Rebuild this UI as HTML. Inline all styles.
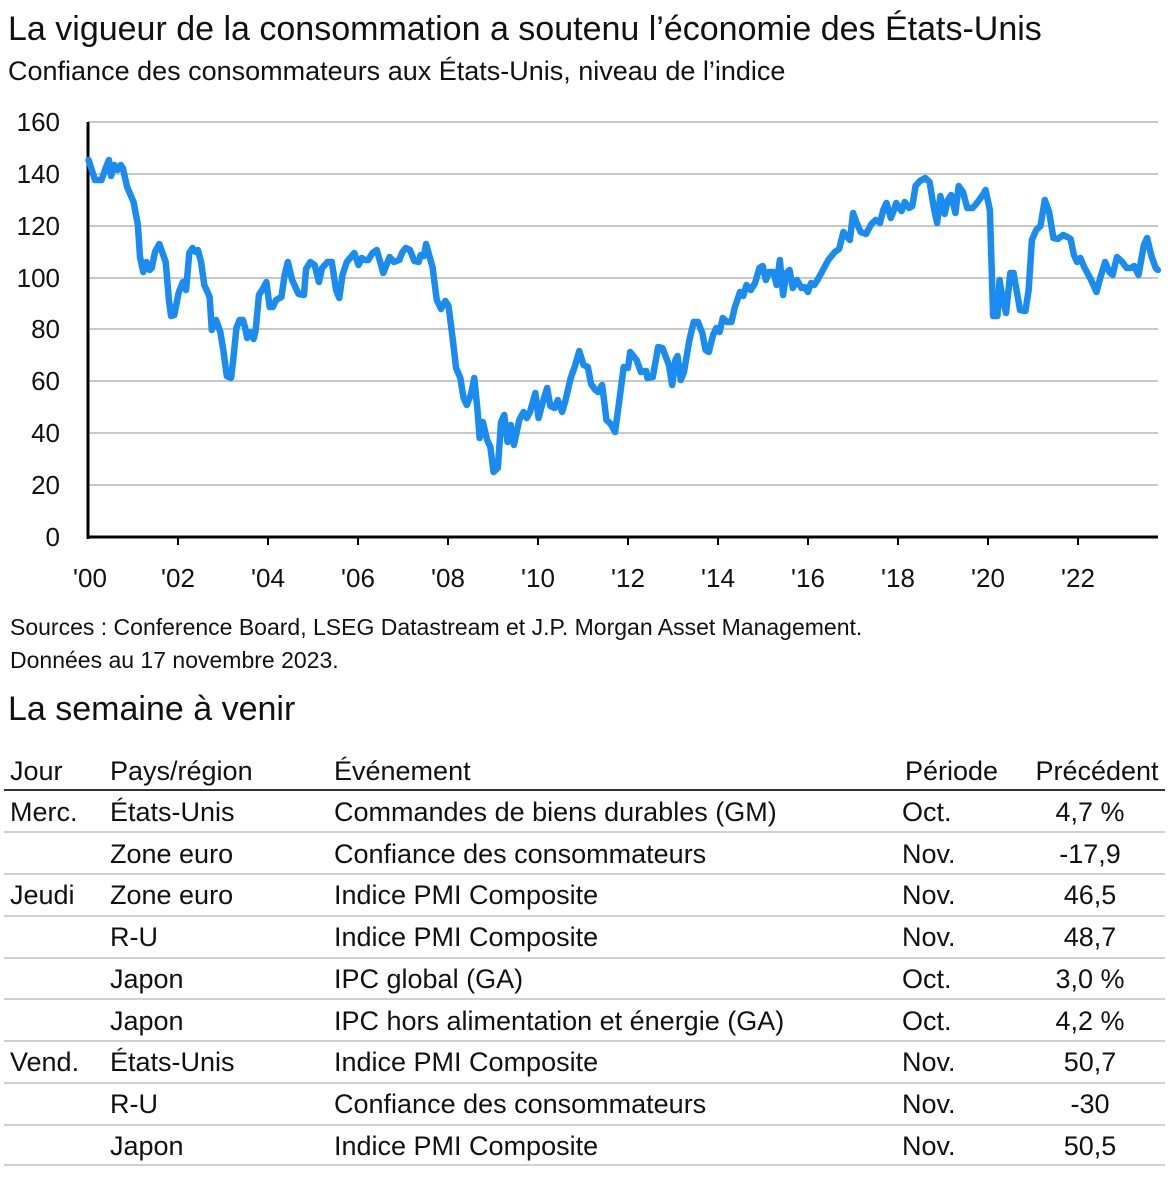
<!DOCTYPE html>
<html><head><meta charset="utf-8"><style>
body{margin:0;width:1173px;height:1200px;background:#fff;font-family:"Liberation Sans",sans-serif;color:#111;position:relative;overflow:hidden}
.t{position:absolute;white-space:nowrap}
.row{position:absolute;left:0;width:1165px;height:42px;font-size:27px;}
.row span{position:absolute;top:4px;white-space:nowrap}
.c1{left:10px}.c2{left:110px}.c3{left:334px}.c4{left:902px}.c5{left:1030px;width:120px;text-align:center}
.ln{position:absolute;left:4px;width:1161px;height:2px;background:#d0d0d0}
</style></head><body>
<div class="t" style="left:8px;top:10px;font-size:34px">La vigueur de la consommation a soutenu l’économie des États-Unis</div>
<div class="t" style="left:8px;top:56px;font-size:27px">Confiance des consommateurs aux États-Unis, niveau de l’indice</div>
<svg style="position:absolute;left:0;top:0" width="1173" height="600">
<g stroke="#c8c8c8" stroke-width="2">
<line x1="88" x2="1158" y1="122" y2="122"/><line x1="88" x2="1158" y1="174" y2="174"/><line x1="88" x2="1158" y1="226" y2="226"/><line x1="88" x2="1158" y1="278" y2="278"/><line x1="88" x2="1158" y1="329" y2="329"/><line x1="88" x2="1158" y1="381" y2="381"/><line x1="88" x2="1158" y1="433" y2="433"/><line x1="88" x2="1158" y1="485" y2="485"/>
</g>
<line x1="88" x2="1158" y1="537" y2="537" stroke="#000" stroke-width="3"/>
<line x1="88" x2="88" y1="122" y2="539" stroke="#000" stroke-width="3"/>
<g stroke="#000" stroke-width="2"><line x1="178" x2="178" y1="537" y2="545"/><line x1="268" x2="268" y1="537" y2="545"/><line x1="358" x2="358" y1="537" y2="545"/><line x1="448" x2="448" y1="537" y2="545"/><line x1="538" x2="538" y1="537" y2="545"/><line x1="628" x2="628" y1="537" y2="545"/><line x1="718" x2="718" y1="537" y2="545"/><line x1="808" x2="808" y1="537" y2="545"/><line x1="898" x2="898" y1="537" y2="545"/><line x1="988" x2="988" y1="537" y2="545"/><line x1="1078" x2="1078" y1="537" y2="545"/></g>
<g font-size="26" fill="#111" text-anchor="end" font-family="Liberation Sans, sans-serif">
<text x="60" y="131">160</text><text x="60" y="183">140</text><text x="60" y="235">120</text><text x="60" y="287">100</text><text x="60" y="338">80</text><text x="60" y="390">60</text><text x="60" y="442">40</text><text x="60" y="494">20</text><text x="60" y="546">0</text>
</g>
<g font-size="26" fill="#111" text-anchor="middle" font-family="Liberation Sans, sans-serif">
<text x="90" y="587">'00</text><text x="178" y="587">'02</text><text x="268" y="587">'04</text><text x="358" y="587">'06</text><text x="448" y="587">'08</text><text x="538" y="587">'10</text><text x="628" y="587">'12</text><text x="718" y="587">'14</text><text x="808" y="587">'16</text><text x="898" y="587">'18</text><text x="988" y="587">'20</text><text x="1078" y="587">'22</text>
</g>
<g fill="none" stroke="#1a8cf0" stroke-width="6.5" stroke-linejoin="round" stroke-linecap="round">
<polyline vector-effect="non-scaling-stroke" transform="translate(80,0) scale(1.0714,1) translate(-80,0)" points="88,160 94,180 100,180 104,168 107,160 109,176 112,165 115,170 118,165 120,168 124,187 130,202 134,225 136,257 139,272 142,262 145,270 147,268 150,252 154,244 158,256 160,262 163,300 165,316 168,315 172,293 176,282 179,290 182,253 185,248 188,252 190,250 193,262 196,285 199,292 201,297 203,330 207,320 211,332 214,352 217,376 221,378 223,360 226,328 229,320 232,320 234,327 236,338 239,332 241,334 242,339 244,330 247,295 250,290 254,282 257,307 260,307 263,300 268,297 271,275 274,262 278,280 284,294 289,295 291,269 295,262 299,265 303,282 306,268 311,262 315,262 319,290 322,298 325,275 329,262 336,253 340,265 343,258 346,260 349,260 353,253 357,250 361,265 363,273 369,257 373,262 378,260 381,252 384,248 388,250 392,261 396,262 398,255 401,256 403,244 409,267 413,300 417,309 421,301 424,306 428,340 431,368 435,378 438,398 441,405 445,394 448,378 451,410 453,438 456,422 460,440 463,447 466,472 470,468 473,422 476,415 479,442 482,425 485,445 490,420 494,412 497,418 500,412 505,393 508,418 512,402 516,388 519,406 523,408 526,400 530,412 533,401 538,378 542,366 546,351 550,365 554,367 557,384 561,390"/>
<polyline vector-effect="non-scaling-stroke" transform="translate(600,0) scale(1.077,1) translate(-600,0)" points="598,392 602,385 606,420 610,424 614,432 618,400 622,367 626,368 628,352 634,360 638,372 643,371 644,378 649,377 654,347 658,348 664,365 667,385 670,360 672,356 675,380 678,372 683,340 687,322 691,322 695,333 698,350 701,352 705,335 708,328 711,332 714,318 718,322 722,322 725,308 730,292 733,296 736,285 740,290 744,283 748,268 751,266 754,280 757,272 761,272 764,285 767,260 770,295 773,273 776,270 779,288 783,280 787,288 790,287 793,292 796,283 799,285 803,278 807,270 812,260 818,252 822,249 826,232 832,240 835,213 838,222 842,232 847,234 852,224 856,220 860,223 863,210 866,203 870,218 873,210 875,203 880,211 883,202 887,208 890,206 893,186 897,181 902,178 906,182 910,208 913,223 916,196 920,214 923,200 926,195 930,213 933,186 937,192 941,208 946,208 950,203 956,194 958,190 962,210 965,316 969,316 971,280 974,300 977,313 981,273 984,273 990,310 995,311 998,290 1001,240 1005,230 1009,226 1013,200 1017,212 1021,238 1025,239 1030,235 1034,237 1037,239 1040,255 1043,262 1046,258 1050,268 1056,280 1061,292 1065,276 1069,262 1073,272 1076,275 1080,257 1085,262 1089,268 1093,268 1096,266 1100,275 1105,245 1108,238 1112,256 1116,268 1118,270"/>
</g>
</svg>
<div class="t" style="left:10px;top:614px;font-size:23px">Sources : Conference Board, LSEG Datastream et J.P. Morgan Asset Management.</div>
<div class="t" style="left:10px;top:647px;font-size:23px">Données au 17 novembre 2023.</div>
<div class="t" style="left:8px;top:690px;font-size:34px">La semaine à venir</div>
<div class="row" style="top:752px"><span class="c1">Jour</span><span class="c2">Pays/région</span><span class="c3">Événement</span><span class="c4" style="left:905px">Période</span><span class="c5" style="left:1030px;width:134px">Précédent</span></div>
<div class="ln" style="top:789px;background:#333"></div>
<div class="row" style="top:793px"><span class="c1">Merc.</span><span class="c2">États-Unis</span><span class="c3">Commandes de biens durables (GM)</span><span class="c4">Oct.</span><span class="c5">4,7 %</span></div>
<div class="ln" style="top:831px"></div>
<div class="row" style="top:835px"><span class="c2">Zone euro</span><span class="c3">Confiance des consommateurs</span><span class="c4">Nov.</span><span class="c5">-17,9</span></div>
<div class="ln" style="top:873px"></div>
<div class="row" style="top:876px"><span class="c1">Jeudi</span><span class="c2">Zone euro</span><span class="c3">Indice PMI Composite</span><span class="c4">Nov.</span><span class="c5">46,5</span></div>
<div class="ln" style="top:915px"></div>
<div class="row" style="top:918px"><span class="c2">R-U</span><span class="c3">Indice PMI Composite</span><span class="c4">Nov.</span><span class="c5">48,7</span></div>
<div class="ln" style="top:957px"></div>
<div class="row" style="top:960px"><span class="c2">Japon</span><span class="c3">IPC global (GA)</span><span class="c4">Oct.</span><span class="c5">3,0 %</span></div>
<div class="ln" style="top:998px"></div>
<div class="row" style="top:1002px"><span class="c2">Japon</span><span class="c3">IPC hors alimentation et énergie (GA)</span><span class="c4">Oct.</span><span class="c5">4,2 %</span></div>
<div class="ln" style="top:1040px"></div>
<div class="row" style="top:1043px"><span class="c1">Vend.</span><span class="c2">États-Unis</span><span class="c3">Indice PMI Composite</span><span class="c4">Nov.</span><span class="c5">50,7</span></div>
<div class="ln" style="top:1082px"></div>
<div class="row" style="top:1085px"><span class="c2">R-U</span><span class="c3">Confiance des consommateurs</span><span class="c4">Nov.</span><span class="c5">-30</span></div>
<div class="ln" style="top:1124px"></div>
<div class="row" style="top:1127px"><span class="c2">Japon</span><span class="c3">Indice PMI Composite</span><span class="c4">Nov.</span><span class="c5">50,5</span></div>
<div class="ln" style="top:1164px"></div>
</body></html>
